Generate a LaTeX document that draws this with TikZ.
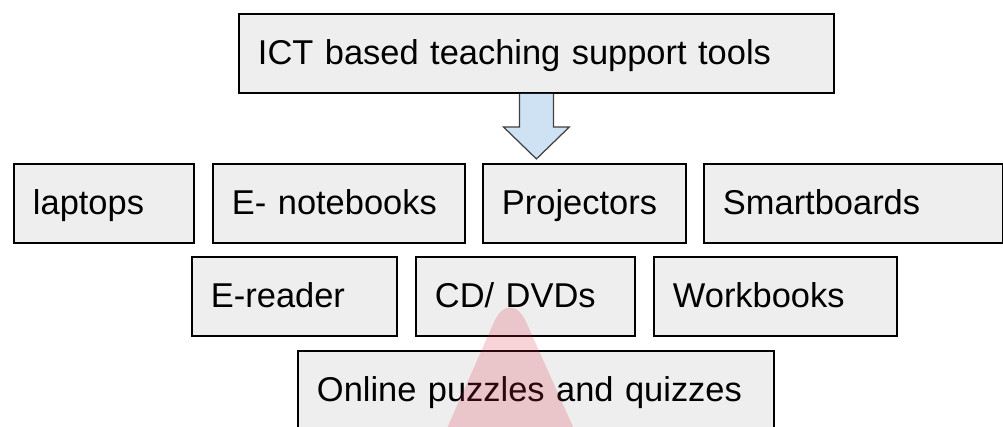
\documentclass[tikz,border=0pt]{standalone}
\usepackage{fontspec}
\setmainfont{Liberation Sans}
\usetikzlibrary{calc}

\definecolor{boxgray}{HTML}{EEEEEE}
\definecolor{arrowblue}{HTML}{CFE2F3}
\definecolor{markred}{RGB}{220,40,60}

\begin{document}
\begin{tikzpicture}[x=0.02cm, y=-0.02cm,
    tool/.style={draw, line width=1.1pt, fill=boxgray, anchor=north west, align=left,
        inner xsep=0.38cm, inner ysep=0pt, minimum height=1.58cm,
        text height=16pt, text depth=4pt,
        font=\fontsize{19.6}{23}\selectfont},
    bigarrow/.style={draw=black!75, line width=0.7pt, fill=arrowblue}]

\useasboundingbox (0,0) rectangle (1003,426);
\clip (0,0) rectangle (1003,426);

% Heading box
\node[tool, text width=11.14cm] (ict) at (238,13) {ICT based teaching support tools};

% First row of tools
\node[tool, text width=2.84cm] (laptops) at (13,163) {laptops};
\node[tool, text width=4.28cm] (enotebooks) at (212,163) {E- notebooks};
\node[tool, text width=3.30cm] (projectors) at (482,163) {Projectors};
\node[tool, text width=5.22cm] (smartboards) at (703,163) {Smartboards};

% Second row
\node[tool, text width=3.34cm] (ereader) at (191,256) {E-reader};
\node[tool, text width=3.62cm] (cddvd) at (415,256) {CD/ DVDs};
\node[tool, text width=4.10cm] (workbooks) at (653,256) {Workbooks};

% Third row
\node[tool, text width=8.76cm] (online) at (297,350) {Online puzzles and quizzes};

% Block arrow down from the heading
\filldraw[bigarrow] ($(ict.south)+(-17,0)$) -- ++(0,33) -- ++(-16,0)
    -- ++(33,32) -- ++(33,-32) -- ++(-16,0) -- ++(0,-33);

% Pale red mark over the lower boxes
\fill[markred, opacity=0.2, rounded corners=0.8cm]
    (417,496) -- (510,286) -- (604,496) -- cycle;

\end{tikzpicture}
\end{document}
